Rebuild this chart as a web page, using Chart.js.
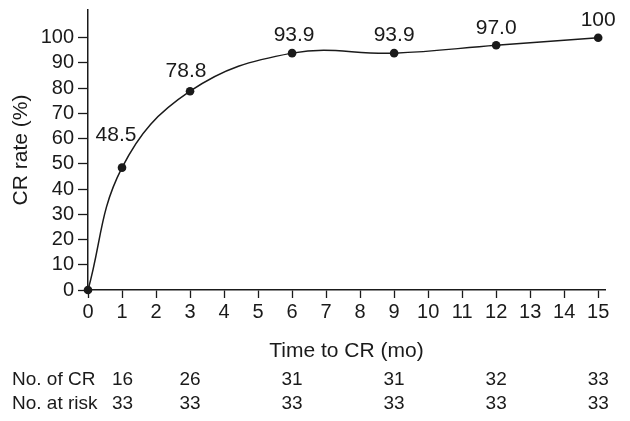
<!DOCTYPE html>
<html><head><meta charset="utf-8">
<script src="https://cdn.jsdelivr.net/npm/chart.js@4"></script>
<style>html,body{margin:0;padding:0;background:#fff}#wrap{width:630px;height:421px}</style>
</head><body><div id="wrap"><canvas id="c" width="630" height="421"></canvas></div>
<script>
const months = [0, 1, 3, 6, 9, 12, 15];
const crRate = [0, 48.5, 78.8, 93.9, 93.9, 97.0, 100];
const rateLabels = ['', '48.5', '78.8', '93.9', '93.9', '97.0', '100'];
const tableMonths = [1, 3, 6, 9, 12, 15];
const noOfCR = [16, 26, 31, 31, 32, 33];
const noAtRisk = [33, 33, 33, 33, 33, 33];
const rowLabels = ['No. of CR', 'No. at risk'];
const yTicks = [0,10,20,30,40,50,60,70,80,90,100];
const xTicks = [0,1,2,3,4,5,6,7,8,9,10,11,12,13,14,15];

const FONT = '"Liberation Sans", Arial, sans-serif';
const INK = '#1a1a1a';
const labelDX = [0, -6, -4, 2, 0, 0, 0];
const labelDY = [0, -32, -20, -18, -18, -17, -18];

const labelPlugin = {
  id: 'labels',
  afterDatasetsDraw(chart) {
    const ctx = chart.ctx;
    const meta = chart.getDatasetMeta(0);
    ctx.save();
    ctx.font = '21px ' + FONT;
    ctx.fillStyle = INK;
    ctx.textAlign = 'center';
    ctx.textBaseline = 'middle';
    meta.data.forEach((p, i) => {
      if (!rateLabels[i]) return;
      ctx.fillText(rateLabels[i], p.x + labelDX[i], p.y + labelDY[i]);
    });
    ctx.restore();
  },
  afterDraw(chart) {
    const ctx = chart.ctx;
    const xs = chart.scales.x;
    ctx.save();
    ctx.font = '19px ' + FONT;
    ctx.fillStyle = INK;
    ctx.textBaseline = 'middle';
    const rows = [noOfCR, noAtRisk];
    const rowY = [380, 404];
    rows.forEach((vals, r) => {
      ctx.textAlign = 'left';
      ctx.fillText(rowLabels[r], 12, rowY[r]);
      vals.forEach((v, i) => {
        const s = String(v);
        const w = ctx.measureText(s).width;
        let left = xs.getPixelForValue(tableMonths[i]) - w / 2;
        if (left < 112) left = 112;
        ctx.fillText(s, left, rowY[r]);
      });
    });
    ctx.restore();
  }
};

new Chart(document.getElementById('c'), {
  type: 'line',
  data: {
    datasets: [{
      data: months.map((m, i) => ({x: m, y: crRate[i]})),
      borderColor: INK,
      backgroundColor: INK,
      borderWidth: 1.5,
      pointRadius: 4.3,
      pointBackgroundColor: INK,
      pointBorderWidth: 0,
      tension: 0.4,
      clip: false
    }]
  },
  options: {
    responsive: false,
    animation: false,
    plugins: { legend: {display: false}, tooltip: {enabled: false} },
    layout: { padding: { left: 0, top: 10, right: 25, bottom: 57 } },
    scales: {
      x: {
        type: 'linear', min: 0, max: 15.2,
        afterBuildTicks: s => { s.ticks = xTicks.map(v => ({value: v})); },
        afterFit: s => { s.height = 74; s.paddingLeft = 0; s.paddingRight = 0; },
        grid: { drawOnChartArea: false, drawTicks: true, tickLength: 8, color: INK, tickWidth: 1.3 },
        border: { color: INK, width: 1.5 },
        ticks: { color: INK, font: {family: FONT, size: 20}, padding: 2, maxRotation: 0, autoSkip: false },
        title: { display: true, text: 'Time to CR (mo)', color: INK, font: {family: FONT, size: 21}, padding: {top: 4, bottom: 0} }
      },
      y: {
        type: 'linear', min: 0, max: 111,
        afterBuildTicks: s => { s.ticks = yTicks.map(v => ({value: v})); },
        afterFit: s => { s.width = 88; s.paddingTop = 0; s.paddingBottom = 0; },
        grid: { drawOnChartArea: false, drawTicks: true, tickLength: 10, color: INK, tickWidth: 1.3 },
        border: { color: INK, width: 1.5 },
        ticks: { color: INK, font: {family: FONT, size: 20}, padding: 4, autoSkip: false },
        title: { display: true, text: 'CR rate (%)', color: INK, font: {family: FONT, size: 21}, padding: {top: 9, bottom: 0} }
      }
    }
  },
  plugins: [labelPlugin]
});
</script></body></html>
